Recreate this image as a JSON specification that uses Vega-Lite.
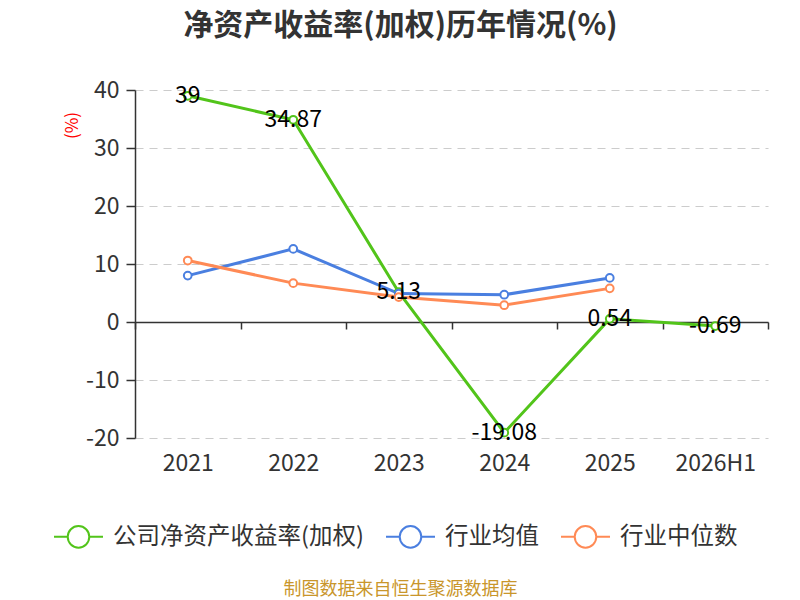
{
  "$schema": "https://vega.github.io/schema/vega-lite/v6.json",
  "autosize": {"type": "none"},
  "width": 633,
  "height": 348,
  "padding": {"left": 135, "top": 90, "right": 32, "bottom": 162},
  "background": "white",
  "config": {
    "font": "Noto Sans CJK SC",
    "view": {"stroke": null},
    "locale": {
      "number": {"decimal": ".", "thousands": ",", "grouping": [3], "currency": ["", ""], "minus": "-"}
    }
  },
  "title": {
    "text": "净资产收益率(加权)历年情况(%)",
    "font": "Noto Sans CJK SC",
    "fontSize": 30,
    "fontWeight": "bold",
    "color": "#333333",
    "anchor": "middle",
    "frame": "group",
    "dx": -51,
    "offset": 38
  },
  "data": {
    "values": [
      {"year": "2021", "series": "公司净资产收益率(加权)", "value": 39},
      {"year": "2022", "series": "公司净资产收益率(加权)", "value": 34.87},
      {"year": "2023", "series": "公司净资产收益率(加权)", "value": 5.13},
      {"year": "2024", "series": "公司净资产收益率(加权)", "value": -19.08},
      {"year": "2025", "series": "公司净资产收益率(加权)", "value": 0.54},
      {"year": "2026H1", "series": "公司净资产收益率(加权)", "value": -0.69},
      {"year": "2021", "series": "行业均值", "value": 8.0},
      {"year": "2022", "series": "行业均值", "value": 12.6},
      {"year": "2023", "series": "行业均值", "value": 4.9},
      {"year": "2024", "series": "行业均值", "value": 4.7},
      {"year": "2025", "series": "行业均值", "value": 7.6},
      {"year": "2021", "series": "行业中位数", "value": 10.6},
      {"year": "2022", "series": "行业中位数", "value": 6.7},
      {"year": "2023", "series": "行业中位数", "value": 4.3},
      {"year": "2024", "series": "行业中位数", "value": 2.9},
      {"year": "2025", "series": "行业中位数", "value": 5.8}
    ]
  },
  "encoding": {
    "x": {
      "field": "year",
      "type": "nominal",
      "sort": ["2021", "2022", "2023", "2024", "2025", "2026H1"],
      "scale": {"domain": ["2021", "2022", "2023", "2024", "2025", "2026H1"], "paddingInner": 0, "paddingOuter": 0},
      "axis": {
        "title": "制图数据来自恒生聚源数据库",
        "titleFont": "Noto Sans CJK SC",
        "titleFontSize": 18,
        "titleFontWeight": "normal",
        "titleColor": "#c9962b",
        "titleX": 265,
        "titleY": 267,
        "titleAlign": "center",
        "titleBaseline": "middle",
        "offset": -116,
        "labelAngle": 0,
        "labelFontSize": 23,
        "labelColor": "#333333",
        "labelPadding": 123,
        "domainColor": "#333333",
        "domainWidth": 1.5,
        "tickColor": "#333333",
        "tickWidth": 1.5,
        "tickSize": 7,
        "tickBand": "extent",
        "grid": false
      }
    },
    "y": {
      "field": "value",
      "type": "quantitative",
      "scale": {"domain": [-20, 40], "nice": false, "zero": false},
      "axis": {
        "title": "(%)",
        "titleColor": "#ff0000",
        "titleFontSize": 17,
        "titleFontWeight": "normal",
        "titleX": -63,
        "titleY": 35,
        "titleAngle": -90,
        "titleAlign": "center",
        "titleBaseline": "middle",
        "values": [-20, -10, 0, 10, 20, 30, 40],
        "labelFontSize": 23,
        "labelColor": "#333333",
        "labelPadding": 7,
        "domainColor": "#333333",
        "domainWidth": 1.5,
        "tickColor": "#333333",
        "tickWidth": 1.5,
        "tickSize": 9,
        "grid": true,
        "gridColor": "#cccccc",
        "gridDash": [8, 6],
        "gridWidth": 1.2
      }
    }
  },
  "layer": [
    {
      "mark": {"type": "line", "strokeWidth": 3},
      "encoding": {
        "stroke": {
          "field": "series",
          "type": "nominal",
          "scale": {
            "domain": ["公司净资产收益率(加权)", "行业均值", "行业中位数"],
            "range": ["#52c41a", "#4a7fe0", "#ff8a55"]
          },
          "legend": {
            "orient": "none",
            "direction": "horizontal",
            "legendX": -82,
            "legendY": 421,
            "title": null,
            "labelFontSize": 23.5,
            "labelColor": "#333333",
            "labelFont": "Noto Sans CJK SC",
            "labelLimit": 400,
            "labelOffset": 9,
            "columnPadding": 18,
            "symbolType": "M-1,0H-0.44M0.44,0H1M0.44,0A0.44,0.44,0,1,1,-0.44,0A0.44,0.44,0,1,1,0.44,0Z",
            "symbolSize": 2400,
            "symbolStrokeWidth": 2,
            "symbolFillColor": "white"
          }
        },
        "order": {"field": "year"}
      }
    },
    {
      "mark": {"type": "point", "shape": "circle", "filled": true, "fill": "white", "size": 60, "strokeWidth": 2, "opacity": 1},
      "encoding": {
        "stroke": {"field": "series", "type": "nominal", "legend": null}
      }
    },
    {
      "transform": [{"filter": "datum.series === '公司净资产收益率(加权)'"}],
      "mark": {"type": "text", "fontSize": 23, "color": "#000000", "align": "center", "baseline": "middle", "font": "Noto Sans CJK SC"},
      "encoding": {
        "text": {"field": "value", "type": "quantitative", "format": ".4~f"}
      }
    }
  ]
}
